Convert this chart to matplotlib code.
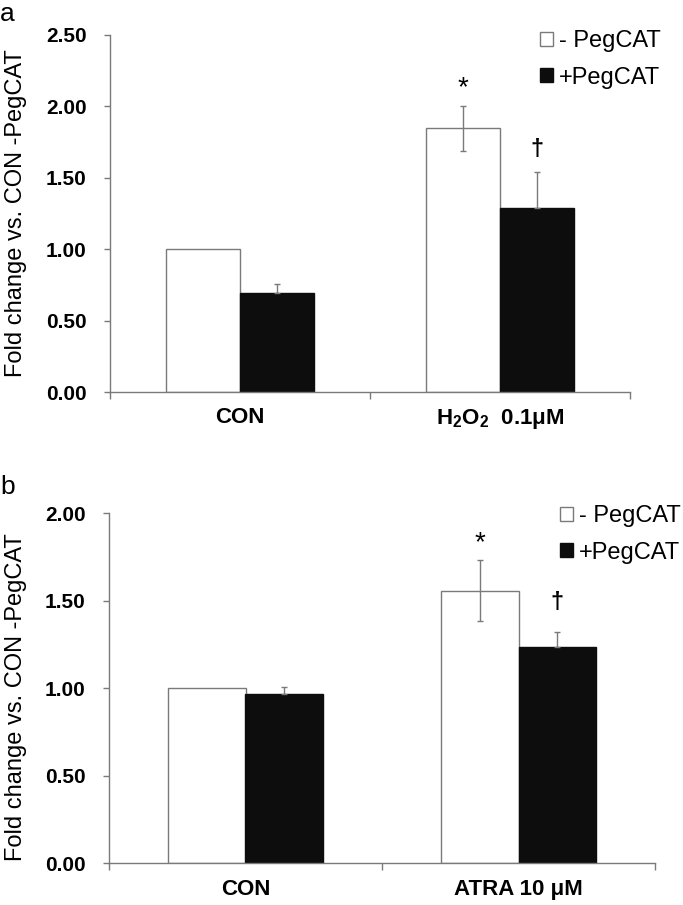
import numpy as np
import matplotlib
matplotlib.use('agg')
import matplotlib.pyplot as plt
from matplotlib.patches import Patch

plt.rcParams['font.family'] = ['Liberation Sans', 'DejaVu Sans']
plt.rcParams['mathtext.default'] = 'regular'

# panel a: H2O2
groups_a = ['CON', 'H$_2$O$_2$  0.1\u03bcM']
minus_a = [1.00, 1.846]
minus_err_a = [0.0, 0.155]
plus_a = [0.69, 1.286]
plus_err_a = [0.065, 0.257]
yticks_a = [0.0, 0.5, 1.0, 1.5, 2.0, 2.5]

# panel b: ATRA
groups_b = ['CON', 'ATRA 10 \u03bcM']
minus_b = [1.00, 1.558]
minus_err_b = [0.0, 0.174]
plus_b = [0.966, 1.234]
plus_err_b = [0.044, 0.09]
yticks_b = [0.0, 0.5, 1.0, 1.5, 2.0]

legend_labels = ['- PegCAT', '+PegCAT']
ylabel = 'Fold change vs. CON -PegCAT'

GRAY = '#7a7a7a'
BLACK = '#0d0d0d'
W = 0.285


def panel(ax, groups, minus, minus_err, plus, plus_err, yticks, star_off, dag_off):
    x = np.arange(len(groups)) + 0.5
    ax.bar(x - W / 2, minus, W, color='white', edgecolor=GRAY, linewidth=1.0, zorder=2)
    ax.bar(x + W / 2, plus, W, color=BLACK, edgecolor=BLACK, linewidth=1.0, zorder=2)
    for i in range(len(groups)):
        if minus_err[i] > 0:
            ax.errorbar(x[i] - W / 2, minus[i], yerr=minus_err[i], fmt='none',
                        ecolor=GRAY, elinewidth=1.0, capsize=2.5, capthick=1.0, zorder=3)
        if plus_err[i] > 0:
            ax.errorbar(x[i] + W / 2, plus[i], yerr=[[0], [plus_err[i]]], fmt='none',
                        ecolor=GRAY, elinewidth=1.0, capsize=2.5, capthick=1.0, zorder=3)
    # significance marks on the treated group
    ax.annotate('*', (x[1] - W / 2, minus[1] + minus_err[1]), xytext=(0, star_off),
                textcoords='offset points', ha='center', va='center', fontsize=20)
    ax.annotate('\u2020', (x[1] + W / 2, plus[1] + plus_err[1]), xytext=(0, dag_off),
                textcoords='offset points', ha='center', va='center', fontsize=17,
                fontweight='bold')

    ax.set_xlim(0, len(groups))
    ax.set_ylim(yticks[0], yticks[-1])
    ax.set_yticks(yticks)
    ax.set_yticklabels([f'{v:.2f}' for v in yticks], fontsize=15, fontweight='bold')
    ax.set_xticks(np.arange(len(groups) + 1))
    ax.set_xticklabels([])
    ax.set_xticks(x, minor=True)
    ax.set_xticklabels(groups, minor=True, fontsize=16, fontweight='bold')
    ax.tick_params(axis='x', which='major', direction='out', length=5, color=GRAY, width=1)
    ax.tick_params(axis='x', which='minor', length=0, pad=11)
    ax.tick_params(axis='y', direction='out', length=4, color=GRAY, width=1, pad=13)
    for s in ['top', 'right']:
        ax.spines[s].set_visible(False)
    for s in ['left', 'bottom']:
        ax.spines[s].set_color(GRAY)
        ax.spines[s].set_linewidth(1.0)
    ax.set_ylabel(ylabel, fontsize=17)


fig = plt.figure(figsize=(6.83, 9.05), dpi=100)
ax_a = fig.add_axes([110 / 683, 1 - 392 / 905, 520 / 683, 357 / 905])
ax_b = fig.add_axes([109 / 683, 1 - 863.3 / 905, 546 / 683, 350 / 905])

panel(ax_a, groups_a, minus_a, minus_err_a, plus_a, plus_err_a, yticks_a, 13, 16)
panel(ax_b, groups_b, minus_b, minus_err_b, plus_b, plus_err_b, yticks_b, 12, 21)
ax_a.yaxis.set_label_coords(-0.16, 0.5)
ax_b.yaxis.set_label_coords(-0.15, 0.475)

handles = [Patch(facecolor='white', edgecolor=GRAY, linewidth=1.0),
           Patch(facecolor=BLACK, edgecolor=BLACK)]
for ax, anchor in [(ax_a, (661 / 683, 1 - 30 / 905)), (ax_b, (681 / 683, 1 - 505 / 905))]:
    ax.legend(handles, legend_labels, loc='upper right', bbox_to_anchor=anchor,
              bbox_transform=fig.transFigure, frameon=False, fontsize=17,
              handlelength=0.55, handleheight=0.55, handletextpad=0.25,
              labelspacing=0.62, borderpad=0, borderaxespad=0)

fig.text(0.0, 1 - 2 / 905, 'a', fontsize=19, va='top', ha='left')
fig.text(0.0, 1 - 475 / 905, 'b', fontsize=19, va='top', ha='left')

plt.savefig('out.png', dpi=100)
